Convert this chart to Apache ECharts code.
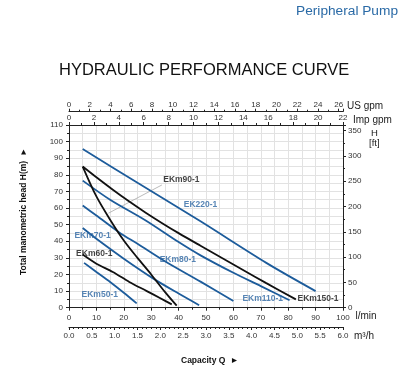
<!DOCTYPE html>
<html><head><meta charset="utf-8">
<script src="https://cdn.jsdelivr.net/npm/echarts@6/dist/echarts.min.js"></script>
<style>html,body{margin:0;padding:0;background:#fff}#c{width:416px;height:374px}</style>
</head><body><div id="c"></div>
<script>
// ---- data (flow in l/min, head in m) ----
const flowEK220 = [5, 25, 48, 72, 90];
const headEK220 = [95.5, 75.2, 52, 27, 10];
const flowEKm150 = [5, 10, 16, 22, 28, 34, 40, 48, 56, 64, 72, 82.8];
const headEKm150 = [85, 78.5, 71, 63.9, 57.2, 50.9, 44.9, 37.3, 29.8, 22.3, 14.8, 5];
const flowEKm110 = [5, 15, 28, 40, 48, 60, 70, 80.5];
const headEKm110 = [76.5, 65, 52.5, 39.5, 31.5, 21, 13, 4.5];
const flowEKm80 = [5, 10, 18.6, 25, 35, 48, 60];
const headEKm80 = [61.5, 55.5, 45, 38.5, 28, 15.7, 4];
const flowEKm70 = [5, 10, 20, 30.8, 40, 47.5];
const headEKm70 = [48, 41.5, 29.5, 17.5, 8.5, 1.5];
const flowEKm90 = [5, 10, 15, 20, 25, 30, 35, 39.3];
const headEKm90 = [85, 67, 53, 40.5, 30, 20, 9.5, 1.2];
const flowEKm60 = [5, 10, 16, 22, 28.4, 33, 37.5];
const headEKm60 = [32, 26.5, 21.5, 15.5, 10, 6, 2];
const flowEKm50 = [5.5, 10, 15, 20, 24.7];
const headEKm50 = [27, 21.5, 15.5, 9, 2.6];

// curve labels (text left edge, in data units)
const labelNames = ['EKm90-1', 'EK220-1', 'EKm70-1', 'EKm60-1', 'EKm80-1', 'EKm50-1', 'EKm110-1', 'EKm150-1'];
const labelX = [34.2, 41.7, 1.8, 2.4, 32.9, 4.4, 63.1, 83.2];
const labelY = [76.9, 61.9, 43.4, 32.5, 28.7, 8.1, 5.2, 5.2];
const labelIsBlue = [false, true, true, false, true, true, true, false];
// leader line for EKm90-1
const leaderX = [33.9, 14.4];
const leaderY = [73.9, 56.9];

// unit conversions
const LMIN_PER_USGPM = 3.78541;
const FT_PER_M = 3.28084;
const Q_MAX = 100, H_MAX = 110;

const BLUE = '#1d5c9b', BLUE_TXT = '#2d67a2', BLACK = '#111';
const zip = (a, b) => a.map((v, i) => [v, b[i]]);

const curves = [
  ['EK220-1', flowEK220, headEK220, BLUE],
  ['EKm150-1', flowEKm150, headEKm150, BLACK],
  ['EKm110-1', flowEKm110, headEKm110, BLUE],
  ['EKm80-1', flowEKm80, headEKm80, BLUE],
  ['EKm70-1', flowEKm70, headEKm70, BLUE],
  ['EKm90-1', flowEKm90, headEKm90, BLACK],
  ['EKm60-1', flowEKm60, headEKm60, BLACK],
  ['EKm50-1', flowEKm50, headEKm50, BLUE]
];

const FONT = 'Liberation Sans, Arial';
const tickLbl = {fontSize: 8, color: '#333', fontFamily: FONT};
const axLine = {show: true, onZero: false, lineStyle: {color: '#222', width: 1}};
const gridLine = {show: true, lineStyle: {color: '#e2e2e2', width: 1}};
const tick = {show: true, length: 3, lineStyle: {color: '#222'}};
const minor = n => ({show: true, splitNumber: n, length: 2, lineStyle: {color: '#222'}});

const series = curves.map(c => ({
  name: c[0], type: 'line', xAxisIndex: 0, yAxisIndex: 0,
  data: zip(c[1], c[2]), smooth: 0.3, symbol: 'none',
  lineStyle: {color: c[3], width: 1.8}, z: 3
}));
series.push({
  type: 'line', xAxisIndex: 0, yAxisIndex: 0, data: zip(leaderX, leaderY),
  symbol: 'none', lineStyle: {color: '#aaa', width: 0.8}, z: 2
});
series.push({
  type: 'scatter', xAxisIndex: 0, yAxisIndex: 0, symbolSize: 1,
  itemStyle: {color: 'rgba(0,0,0,0)'}, z: 5,
  data: labelNames.map((n, i) => ({
    name: n, value: [labelX[i], labelY[i]],
    label: {show: true, position: 'right', distance: 0, formatter: n,
      fontSize: 8.5, fontWeight: 'bold', fontFamily: FONT,
      color: labelIsBlue[i] ? BLUE_TXT : BLACK}
  }))
});

const option = {
  animation: false,
  textStyle: {fontFamily: FONT},
  title: [
    {text: 'HYDRAULIC PERFORMANCE CURVE', left: 59, top: 61.5, padding: 0,
     textStyle: {fontSize: 16.5, fontWeight: 'normal', color: '#111', fontFamily: FONT}},
    {text: 'Peripheral Pump', right: 18, top: 4, padding: 0,
     textStyle: {fontSize: 13.7, fontWeight: 'normal', color: '#2a6aa6', fontFamily: FONT}},
    {text: 'Capacity Q  \u25BA', left: 181, top: 356.5, padding: 0,
     textStyle: {fontSize: 8.5, fontWeight: 'bold', color: '#111', fontFamily: FONT}}
  ],
  graphic: [
    {type: 'text', left: 371, top: 128.5, style: {text: 'H', fill: '#222', font: '9.5px Liberation Sans'}},
    {type: 'text', left: 369, top: 138.5, style: {text: '[ft]', fill: '#222', font: '9.5px Liberation Sans'}}
  ],
  grid: {left: 69, top: 125, width: 274, height: 182.7, containLabel: false},
  xAxis: [
    {type: 'value', position: 'bottom', min: 0, max: Q_MAX, interval: 10,
     name: 'l/min', nameLocation: 'end', nameGap: 12.5,
     nameTextStyle: {fontSize: 10, color: '#222', verticalAlign: 'top', padding: [4, 0, 0, 0]},
     axisLine: axLine, axisTick: tick, minorTick: minor(2),
     splitLine: gridLine, minorSplitLine: gridLine,
     axisLabel: Object.assign({margin: 6}, tickLbl)},
    {type: 'value', position: 'bottom', offset: 19.3, min: 0, max: Q_MAX * 60 / 1000, interval: 0.5,
     name: 'm\u00B3/h', nameLocation: 'end', nameGap: 11,
     nameTextStyle: {fontSize: 10, color: '#222', verticalAlign: 'top', padding: [4, 0, 0, 0]},
     axisLine: axLine, axisTick: tick, minorTick: minor(5),
     splitLine: {show: false},
     axisLabel: Object.assign({margin: 5, formatter: v => v.toFixed(1)}, tickLbl)},
    {type: 'value', position: 'top', min: 0, max: 22, interval: 2,
     name: 'Imp gpm', nameLocation: 'end', nameGap: 10,
     nameTextStyle: {fontSize: 10, color: '#222', verticalAlign: 'bottom', padding: [0, 0, 0, 0]},
     axisLine: axLine, axisTick: tick, minorTick: minor(2),
     splitLine: {show: false},
     axisLabel: Object.assign({margin: 3}, tickLbl)},
    {type: 'value', position: 'top', offset: 13.3, min: 0, max: Q_MAX / LMIN_PER_USGPM, interval: 2,
     name: 'US gpm', nameLocation: 'end', nameGap: 3,
     nameTextStyle: {fontSize: 10, color: '#222', verticalAlign: 'bottom', padding: [0, 0, 0, 0]},
     axisLine: axLine, axisTick: tick, minorTick: minor(2),
     splitLine: {show: false},
     axisLabel: Object.assign({margin: 3, formatter: v => (Math.abs(v - Math.round(v)) < 1e-6 && Math.round(v) % 2 === 0) ? String(Math.round(v)) : ''}, tickLbl)}
  ],
  yAxis: [
    {type: 'value', position: 'left', min: 0, max: H_MAX, interval: 10,
     name: 'Total manometric head H(m)  \u25BA', nameLocation: 'middle', nameRotate: 90, nameGap: 41,
     nameTextStyle: {fontSize: 8.5, fontWeight: 'bold', color: '#111', padding: [0, 0, 0, 10]},
     axisLine: axLine, axisTick: tick, minorTick: minor(2),
     splitLine: gridLine, minorSplitLine: gridLine,
     axisLabel: Object.assign({margin: 6}, tickLbl)},
    {type: 'value', position: 'right', min: 0, max: H_MAX * FT_PER_M, interval: 50,
     axisLine: axLine, axisTick: tick, minorTick: minor(2),
     splitLine: {show: false},
     axisLabel: Object.assign({margin: 5, formatter: v => (Math.abs(v % 50) < 1e-6) ? String(v) : ''}, tickLbl)}
  ],
  series: series
};
const chart = echarts.init(document.getElementById('c'), null, {renderer: 'canvas'});
chart.setOption(option);
</script></body></html>
